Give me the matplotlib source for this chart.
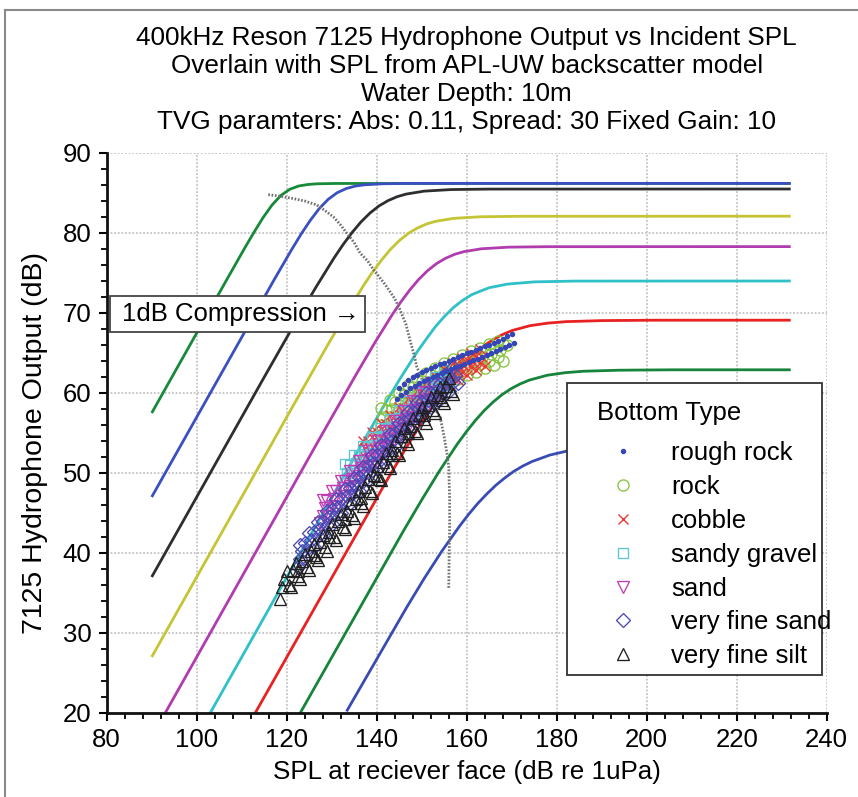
import matplotlib
matplotlib.use("Agg")
import matplotlib.pyplot as plt
from matplotlib.lines import Line2D
from matplotlib.patches import Rectangle
from matplotlib.ticker import MultipleLocator

plt.rcParams['font.family'] = ['Liberation Sans', 'DejaVu Sans']

# ---------------- gain / saturation curves ----------------
c1_x = [90, 106.7, 110.7, 112.7, 114.7, 116.7, 118.7, 120.7, 122.7, 124.7, 126.7, 130.7, 232]
c1_y = [57.5, 74.19, 78.15, 80.06, 81.88, 83.47, 84.69, 85.47, 85.88, 86.06, 86.15, 86.19, 86.2]
c2_x = [90, 117.2, 121.2, 123.2, 125.2, 127.2, 129.2, 131.2, 133.2, 135.2, 137.2, 141.2, 147.2, 232]
c2_y = [47.0, 74.15, 78.02, 79.86, 81.55, 83.03, 84.2, 85.03, 85.55, 85.86, 86.02, 86.15, 86.2, 86.2]
c3_x = [90, 114.5, 122.5, 126.5, 130.5, 132.5, 134.5, 136.5, 138.5, 140.5, 142.5, 144.5, 146.5, 150.5, 156.5, 165, 232]
c3_y = [37.0, 61.48, 69.39, 73.23, 76.86, 78.53, 80.04, 81.38, 82.49, 83.38, 84.04, 84.53, 84.86, 85.23, 85.43, 85.49, 85.5]
c4_x = [90, 121, 129.1, 133.1, 137.1, 139.1, 141.1, 143.1, 145.1, 147.1, 149.1, 151.1, 153.1, 157.1, 163.1, 172, 232]
c4_y = [27.0, 57.98, 65.99, 69.83, 73.46, 75.13, 76.64, 77.98, 79.09, 79.98, 80.64, 81.13, 81.46, 81.83, 82.03, 82.09, 82.1]
c5_x = [93, 127, 135.3, 139.3, 143.3, 145.3, 147.3, 149.3, 151.3, 153.3, 155.3, 157.3, 159.3, 163.3, 169.3, 178, 232]
c5_y = [20.0, 53.98, 62.19, 66.03, 69.66, 71.33, 72.84, 74.18, 75.29, 76.18, 76.84, 77.33, 77.66, 78.03, 78.23, 78.29, 78.3]
c6_x = [103, 137, 141, 145, 149, 151, 153, 155, 157, 159, 161, 163, 165, 169, 175, 184, 232]
c6_y = [20.0, 53.92, 57.83, 61.61, 65.16, 66.73, 68.26, 69.54, 70.66, 71.54, 72.26, 72.73, 73.16, 73.61, 73.89, 73.99, 74.0]
c7_x = [113, 142.1, 146.1, 150.1, 154.1, 156.1, 158.1, 160.1, 162.1, 164.1, 166.1, 168.1, 170.1, 174.1, 178.1, 182.1, 190.1, 202, 232]
c7_y = [20.0, 48.92, 52.74, 56.42, 59.81, 61.34, 62.75, 64.01, 65.09, 66.01, 66.75, 67.34, 67.81, 68.42, 68.74, 68.92, 69.05, 69.1, 69.1]
c8_x = [123, 145.9, 149.9, 153.9, 157.9, 159.9, 161.9, 163.9, 165.9, 167.9, 169.9, 171.9, 173.9, 177.9, 181.9, 185.9, 193.9, 206, 232]
c8_y = [20.0, 42.72, 46.54, 50.22, 53.61, 55.14, 56.55, 57.81, 58.89, 59.81, 60.55, 61.14, 61.61, 62.22, 62.54, 62.72, 62.85, 62.9, 62.9]
c9_x = [133.3, 146.5, 150.5, 154.5, 158.5, 160.5, 162.5, 164.5, 166.5, 168.5, 170.5, 172.5, 174.5, 178.5, 182.5, 186.5, 196.5, 211.5, 232]
c9_y = [20.2, 33.05, 36.77, 40.25, 43.43, 44.88, 46.22, 47.4, 48.48, 49.4, 50.22, 50.88, 51.43, 52.25, 52.77, 53.05, 53.38, 53.49, 53.5]

curve_colors = ['#178a3a', '#3a4fc0', '#2e2e2e', '#c4c434', '#b03cb0',
                '#2fc0c8', '#e82222', '#16843a', '#3a4cb4']

# ---------------- 1 dB compression (dotted) ----------------
comp_x = [115.9, 118.5, 121.5, 124.0, 126.7, 128.5, 130.4, 132.0, 133.3, 135.0, 136.3, 138.0,
          139.3, 141.0, 142.2, 144.0, 145.2, 146.5, 147.4, 148.2, 148.9, 150.0, 151.2, 152.6,
          154.1, 155.0, 155.6, 156.0, 156.2, 156.2, 156.1, 156.0]
comp_y = [84.8, 84.6, 84.3, 84.0, 83.5, 82.8, 82.0, 81.0, 80.0, 78.8, 77.5, 76.5,
          75.4, 74.2, 73.3, 71.8, 70.4, 68.6, 66.6, 65.0, 63.3, 61.8, 60.0, 58.3,
          57.0, 54.5, 52.5, 50.8, 47.0, 43.0, 39.5, 35.5]

# ---------------- bottom type backscatter SPL points ----------------
rr_x = [145, 146, 147, 148, 149, 150, 151, 152, 153, 154, 155, 156, 157, 158, 159, 160, 161, 162, 163,
        164, 165, 166, 167, 168, 169, 170,
        144.5, 145.5, 146.5, 147.5, 148.5, 149.5, 150.5, 151.5, 152.5, 153.5, 154.5, 155.5, 156.5,
        157.5, 158.5, 159.5, 160.5, 161.5, 162.5, 163.5, 164.5, 165.5, 166.5, 167.5, 168.5, 169.5, 170.5]
rr_y = [60.65, 61.1, 61.6, 61.95, 62.25, 62.6, 62.85, 63.1, 63.35, 63.6, 63.8, 64.05, 64.3, 64.5, 64.7,
        64.95, 65.15, 65.4, 65.6, 65.85, 66.05, 66.3, 66.55, 66.8, 67.1, 67.35,
        59.2, 59.7, 60.15, 60.6, 60.9, 61.2, 61.5, 61.8, 62.0, 62.3, 62.5, 62.75, 62.95,
        63.2, 63.4, 63.6, 63.85, 64.1, 64.3, 64.5, 64.75, 65.0, 65.2, 65.5, 65.75, 66.0, 66.3]

rk_x = [141, 143, 145, 147, 149, 151, 153, 155, 157, 159, 161, 163, 165, 167,
        140.5, 142, 144, 146, 148, 150, 152, 154, 156, 158, 160, 162, 164, 166, 168,
        141.5, 143.5, 145.5, 147.5, 149.5, 151.5, 153.5, 155.5, 157.5, 159.5, 161.5, 163.5, 165.5, 167.5, 169,
        142, 144, 146, 148, 150, 152, 154, 156, 158, 160, 162, 164, 166, 168,
        141, 143, 145, 147, 149, 151, 153, 155, 157, 159, 161, 163, 165, 167]
rk_y = [58.15, 59.1, 60.05, 60.95, 61.8, 62.5, 63.1, 63.75, 64.25, 64.7, 65.2, 65.65, 66.1, 66.55,
        55.1, 55.8, 56.8, 57.7, 58.6, 59.4, 60.1, 60.7, 61.25, 61.75, 62.2, 62.65, 63.1, 63.55, 64.0,
        57.0, 57.95, 58.85, 59.8, 60.6, 61.35, 62.0, 62.6, 63.05, 63.55, 64.0, 64.45, 64.9, 65.35, 66.0,
        57.9, 58.9, 59.8, 60.7, 61.5, 62.2, 62.8, 63.35, 63.85, 64.35, 64.8, 65.25, 65.7, 66.15,
        56.05, 57.0, 57.95, 58.85, 59.7, 60.45, 61.1, 61.7, 62.25, 62.7, 63.15, 63.6, 64.05, 64.5]

cb_x = [137, 139, 141, 143, 145, 147, 149, 151, 153, 155, 157, 159, 161, 163,
        136.5, 138, 140, 142, 144, 146, 148, 150, 152, 154, 156, 158, 160, 162, 164,
        137.5, 139.5, 141.5, 143.5, 145.5, 147.5, 149.5, 151.5, 153.5, 155.5, 157.5, 159.5, 161.5, 163.5,
        138, 140, 142, 144, 146, 148, 150, 152, 154, 156, 158, 160, 162,
        137, 139, 141, 143, 145, 147, 149, 151, 153, 155, 157, 159, 161, 163]
cb_y = [54.0, 55.1, 56.2, 57.2, 58.2, 59.2, 60.2, 61.2, 62.1, 63.0, 63.7, 64.4, 65.0, 65.5,
        51.3, 52.15, 53.3, 54.3, 55.3, 56.3, 57.3, 58.3, 59.3, 60.15, 61.0, 61.65, 62.3, 62.85, 63.4,
        53.1, 54.2, 55.25, 56.25, 57.25, 58.25, 59.25, 60.25, 61.15, 62.0, 62.7, 63.35, 63.9, 64.45,
        53.95, 55.1, 56.1, 57.1, 58.1, 59.1, 60.1, 61.1, 61.95, 62.8, 63.45, 64.1, 64.65,
        52.2, 53.3, 54.4, 55.4, 56.4, 57.4, 58.4, 59.4, 60.3, 61.2, 61.9, 62.6, 63.2, 63.7]

sg_x = [133, 135, 137, 139, 141, 143, 145, 147, 149, 151, 153, 155,
        132.5, 134, 136, 138, 140, 142, 144, 146, 148, 150, 152, 154, 156,
        133.5, 135.5, 137.5, 139.5, 141.5, 143.5, 145.5, 147.5, 149.5, 151.5, 153.5, 155.5,
        134, 136, 138, 140, 142, 144, 146, 148, 150, 152, 154,
        133, 135, 137, 139, 141, 143, 145, 147, 149, 151, 153, 155]
sg_y = [51.1, 52.2, 53.4, 54.5, 55.65, 56.75, 57.9, 59.0, 60.1, 61.1, 62.0, 62.9,
        48.2, 49.05, 50.2, 51.35, 52.5, 53.6, 54.7, 55.85, 57.0, 58.0, 59.0, 59.85, 60.7,
        50.05, 51.2, 52.35, 53.5, 54.6, 55.7, 56.85, 58.0, 59.05, 60.05, 60.95, 61.8,
        51.0, 52.15, 53.3, 54.45, 55.55, 56.65, 57.8, 58.95, 59.95, 60.95, 61.8,
        49.15, 50.25, 51.45, 52.55, 53.7, 54.8, 55.95, 57.05, 58.15, 59.15, 60.05, 60.95]

sd_x = [128, 130, 132, 134, 136, 138, 140, 142, 144, 146, 148, 150, 152,
        127.5, 129, 131, 133, 135, 137, 139, 141, 143, 145, 147, 149, 151, 153,
        128.5, 130.5, 132.5, 134.5, 136.5, 138.5, 140.5, 142.5, 144.5, 146.5, 148.5, 150.5,
        129, 131, 133, 135, 137, 139, 141, 143, 145, 147, 149, 151,
        128, 130, 132, 134, 136, 138, 140, 142, 144, 146, 148, 150, 152]
sd_y = [46.6, 47.8, 49.05, 50.3, 51.55, 52.8, 54.05, 55.3, 56.55, 57.8, 58.95, 60.1, 61.2,
        43.7, 44.6, 45.8, 47.1, 48.3, 49.6, 50.8, 52.1, 53.3, 54.6, 55.8, 56.9, 58.1, 59.2,
        45.6, 46.8, 48.1, 49.3, 50.6, 51.8, 53.1, 54.3, 55.6, 56.8, 57.9, 59.1,
        46.55, 47.75, 49.05, 50.25, 51.55, 52.75, 54.05, 55.25, 56.55, 57.75, 58.85, 60.05,
        44.65, 45.85, 47.1, 48.35, 49.6, 50.85, 52.1, 53.35, 54.6, 55.85, 57.0, 58.15, 59.25]

vfs_x = [123, 125, 127, 129, 131, 133, 135, 137, 139, 141, 143, 145, 147, 149, 151, 153, 155, 157,
         122.5, 124, 126, 128, 130, 132, 134, 136, 138, 140, 142, 144, 146, 148, 150, 152, 154, 156, 158,
         123.5, 125.5, 127.5, 129.5, 131.5, 133.5, 135.5, 137.5, 139.5, 141.5, 143.5, 145.5, 147.5,
         149.5, 151.5, 153.5, 155.5, 157.5,
         124, 126, 128, 130, 132, 134, 136, 138, 140, 142, 144, 146, 148, 150, 152, 154, 156,
         123, 125, 127, 129, 131, 133, 135, 137, 139, 141, 143, 145, 147, 149, 151, 153, 155, 157]
vfs_y = [41.05, 42.5, 43.9, 45.3, 46.7, 48.0, 49.4, 50.8, 52.2, 53.5, 54.9, 56.3, 57.6, 58.9, 60.05,
         61.15, 62.2, 63.2,
         38.3, 39.4, 40.8, 42.2, 43.6, 44.95, 46.3, 47.7, 49.1, 50.45, 51.8, 53.2, 54.6, 55.85, 57.1,
         58.2, 59.3, 60.3, 61.3,
         40.25, 41.65, 43.05, 44.45, 45.8, 47.15, 48.55, 49.95, 51.3, 52.65, 54.05, 55.45, 56.75,
         58.0, 59.1, 60.2, 61.25, 62.25,
         41.2, 42.6, 44.0, 45.4, 46.75, 48.1, 49.5, 50.9, 52.25, 53.6, 55.0, 56.4, 57.65, 58.9, 60.0,
         61.1, 62.1,
         39.25, 40.7, 42.1, 43.5, 44.9, 46.2, 47.6, 49.0, 50.4, 51.7, 53.1, 54.5, 55.8, 57.1, 58.25,
         59.35, 60.4, 61.4]

silt_x = [120, 122, 124, 126, 128, 130, 132, 134, 136, 138, 140, 142, 144, 146, 148, 150, 152, 154, 156,
          118.5, 121, 123, 125, 127, 129, 131, 133, 135, 137, 139, 141, 143, 145, 147, 149, 151, 153, 155, 157,
          119, 122.5, 126, 129.5, 133, 136.5, 140, 143.5, 147, 150.5, 154,
          119.5, 121.5, 123.5, 125.5, 127.5, 129.5, 131.5, 133.5, 135.5, 137.5, 139.5, 141.5, 143.5,
          145.5, 147.5, 149.5, 151.5, 153.5, 155.5,
          120.5, 122.5, 124.5, 126.5, 128.5, 130.5, 132.5, 134.5, 136.5, 138.5, 140.5, 142.5, 144.5,
          146.5, 148.5, 150.5, 152.5, 154.5, 156.5]
silt_y = [37.7, 38.8, 39.9, 41.1, 42.3, 43.6, 44.9, 46.3, 47.8, 49.3, 50.9, 52.5, 54.0, 55.6, 56.9, 58.3,
          59.5, 60.8, 61.9,
          34.2, 35.7, 36.8, 37.9, 39.1, 40.3, 41.6, 43.0, 44.4, 45.9, 47.5, 49.1, 50.6, 52.2, 53.6, 55.0,
          56.3, 57.5, 58.7, 59.9,
          35.8, 37.8, 39.8, 42.0, 44.3, 46.9, 49.6, 52.3, 55.0, 57.3, 59.5,
          36.7, 37.9, 39.0, 40.2, 41.4, 42.6, 44.0, 45.3, 46.8, 48.3, 49.8, 51.4, 52.9,
          54.6, 55.9, 57.3, 58.5, 59.8, 60.9,
          36.0, 37.1, 38.3, 39.5, 40.7, 42.0, 43.3, 44.7, 46.2, 47.7, 49.3, 50.9, 52.5,
          54.0, 55.3, 56.7, 57.9, 59.1, 60.3]

series_names = ['rough rock', 'rock', 'cobble', 'sandy gravel', 'sand', 'very fine sand', 'very fine silt']
series_markers = ['.', 'o', 'x', 's', 'v', 'D', '^']
series_colors = ['#3446b8', '#86c440', '#ee3636', '#5cc6d6', '#c23cb6', '#4a48b4', '#1e1e1e']
series_sizes = [2.9, 8.0, 7.5, 7.5, 8.5, 7.0, 9.0]
series_z = [3.8, 3.0, 3.1, 3.2, 3.3, 3.4, 3.5]

title_lines = ["400kHz Reson 7125 Hydrophone Output vs Incident SPL",
               "Overlain with SPL from APL-UW backscatter model",
               "Water Depth: 10m",
               "TVG paramters: Abs: 0.11, Spread: 30 Fixed Gain: 10"]

W, H = 858, 797
fig = plt.figure(figsize=(W / 100, H / 100), dpi=100)
ax = fig.add_axes([106.7 / W, 1 - 713 / H, 720 / W, 560 / H])

ax.set_xlim(80, 240)
ax.set_ylim(20, 90)

# grid
ax.grid(True, which='major', color='#c4c4c4', linestyle=(0, (1, 1)), linewidth=1.3)
ax.set_axisbelow(True)

curves = [(c1_x, c1_y), (c2_x, c2_y), (c3_x, c3_y), (c4_x, c4_y), (c5_x, c5_y),
          (c6_x, c6_y), (c7_x, c7_y), (c8_x, c8_y), (c9_x, c9_y)]
for (cx, cy), col in zip(curves, curve_colors):
    ax.plot(cx, cy, color=col, lw=2.0, solid_capstyle='butt', zorder=2)

ax.plot(comp_x, comp_y, color='#707070', lw=2.0, linestyle=(0, (0.6, 0.6)), zorder=2.5)

series = [(rr_x, rr_y), (rk_x, rk_y), (cb_x, cb_y), (sg_x, sg_y), (sd_x, sd_y), (vfs_x, vfs_y), (silt_x, silt_y)]
handles = []
for (sx, sy), name, mk, col, ms, z in zip(series, series_names, series_markers, series_colors,
                                          series_sizes, series_z):
    if mk == '.':
        h, = ax.plot(sx, sy, linestyle='none', marker='o', ms=ms, mfc=col, mec=col, label=name, zorder=z)
    elif mk == 'x':
        h, = ax.plot(sx, sy, linestyle='none', marker='x', ms=ms, mec=col, mew=1.0, label=name, zorder=z)
    else:
        h, = ax.plot(sx, sy, linestyle='none', marker=mk, ms=ms, mfc='none', mec=col, mew=0.95,
                     label=name, zorder=z)
    handles.append(h)

# spines & ticks
for s in ['top', 'right']:
    ax.spines[s].set_visible(False)
for s in ['left', 'bottom']:
    ax.spines[s].set_linewidth(2.0)
    ax.spines[s].set_color('#111111')
ax.xaxis.set_major_locator(MultipleLocator(20))
ax.xaxis.set_minor_locator(MultipleLocator(4))
ax.yaxis.set_major_locator(MultipleLocator(10))
ax.yaxis.set_minor_locator(MultipleLocator(2))
ax.tick_params(which='major', direction='out', length=6, width=1.5, labelsize=18.5, pad=5)
ax.tick_params(which='minor', direction='out', length=4, width=1.3)

ax.set_xlabel("SPL at reciever face (dB re 1uPa)", fontsize=18.7)
ax.xaxis.set_label_coords(0.5, -0.105)
ax.xaxis.label.set_verticalalignment('center')
ax.set_ylabel("7125 Hydrophone Output (dB)", fontsize=20.5)
ax.yaxis.set_label_coords(-0.0996, 0.482)
ax.yaxis.label.set_verticalalignment('center')

# title
fig.text(466.7 / W, 1 - 80 / H, "\n".join(title_lines), ha='center', va='center',
         fontsize=18.8, linespacing=1.2)

# 1 dB compression annotation box
ax.add_patch(Rectangle((0.0046, 0.6804), 0.3542, 0.0642, transform=ax.transAxes,
                       facecolor='white', edgecolor='#444444', lw=1.3, zorder=6))
ax.text(0.0213, 0.7125, "1dB Compression \u2192", transform=ax.transAxes, ha='left', va='center',
        fontsize=18.5, zorder=7)

# legend
ax.add_patch(Rectangle((0.639, 0.068), 0.3545, 0.521, transform=ax.transAxes,
                       facecolor='white', edgecolor='#333333', lw=1.3, zorder=6))
ax.text((597 - 106.7) / 720, (713 - 413) / 560, "Bottom Type", transform=ax.transAxes,
        ha='left', va='center', fontsize=18.5, zorder=7)
leg = ax.legend(handles=handles, loc='upper left', bbox_to_anchor=((597.3 - 106.7) / 720, (713 - 441) / 560),
                frameon=False, fontsize=18.5, borderpad=0, borderaxespad=0, handlelength=2.0,
                handletextpad=0.87, labelspacing=0.385, numpoints=1)
leg.set_zorder(8)

# outer frame of the figure
fig.add_artist(Line2D([5 / W, 1.0], [1 - 10 / H, 1 - 10 / H], color='#8a8a8a', lw=1.5))
fig.add_artist(Line2D([5 / W, 5 / W], [0, 1 - 10 / H], color='#8a8a8a', lw=1.5))

fig.savefig("out.png", dpi=100)
